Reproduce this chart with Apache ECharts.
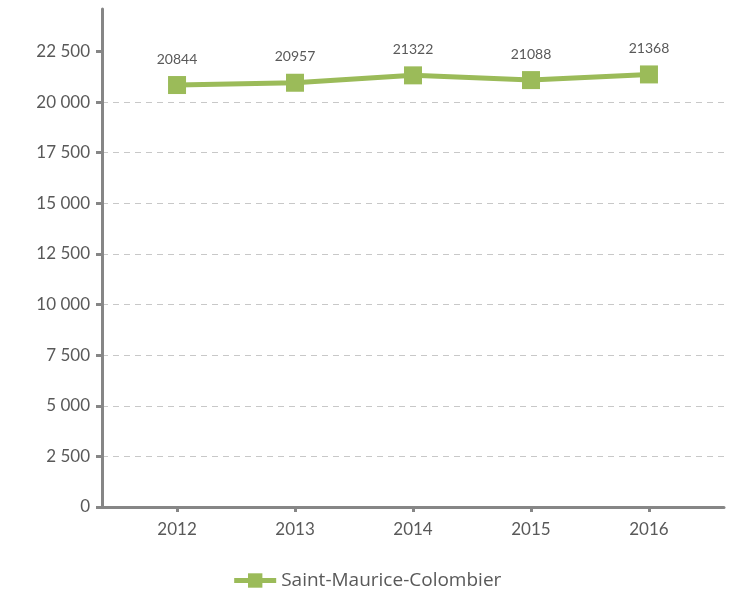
<!DOCTYPE html>
<html><head><meta charset="utf-8">
<script src="https://cdn.jsdelivr.net/npm/echarts@6/dist/echarts.min.js"></script>
<style>html,body{margin:0;padding:0;background:#fff}#c{width:733px;height:599px}</style>
</head><body><div id="c"></div>
<script>
const years = [2012, 2013, 2014, 2015, 2016];
const values = [20844, 20957, 21322, 21088, 21368];
const yTicks = [0, 2500, 5000, 7500, 10000, 12500, 15000, 17500, 20000, 22500];
const seriesName = 'Saint-Maurice-Colombier';

const chart = echarts.init(document.getElementById('c'));
const fmt = v => String(v).replace(/\B(?=(\d{3})+(?!\d))/g, ' ');
chart.setOption({
  animation: false,
  grid: { left: 102, right: 9, top: 9, bottom: 92, containLabel: false },
  xAxis: {
    type: 'value', min: 2011.364, max: 2016.636,
    axisLine: { show: true, lineStyle: { color: '#868686', width: 3 } },
    axisTick: { show: true, customValues: years, length: 5, lineStyle: { color: '#868686', width: 3 } },
    axisLabel: { customValues: years, color: '#595959', fontFamily: 'Lato', fontSize: 17, margin: 14, formatter: v => String(v) },
    splitLine: { show: false }
  },
  yAxis: {
    type: 'value', min: 0, max: 24600, interval: 2500,
    axisLine: { show: true, lineStyle: { color: '#868686', width: 3 } },
    axisTick: { show: true, customValues: yTicks, length: 6, lineStyle: { color: '#868686', width: 3 } },
    axisLabel: { customValues: yTicks, color: '#595959', fontFamily: 'Lato', fontSize: 17, margin: 12, formatter: v => fmt(v) },
    splitLine: { show: true, showMaxLine: false, lineStyle: { color: '#c8c8c8', type: [6, 5], width: 1 } }
  },
  legend: {
    bottom: 4, left: 'center', itemWidth: 42, itemHeight: 18, itemGap: 8,
    lineStyle: { width: 5 },
    textStyle: { color: '#595959', fontFamily: 'Open Sans', fontSize: 19 },
    data: [{ name: seriesName }]
  },
  series: [{
    name: seriesName, type: 'line',
    data: years.map((y, i) => [y, values[i]]),
    symbol: 'rect', symbolSize: 18,
    lineStyle: { color: '#9bbb59', width: 5 },
    itemStyle: { color: '#9bbb59' },
    label: { show: true, position: 'top', distance: 10, color: '#595959', fontFamily: 'Lato', fontSize: 14, formatter: p => String(p.value[1]) }
  }]
});
</script></body></html>
